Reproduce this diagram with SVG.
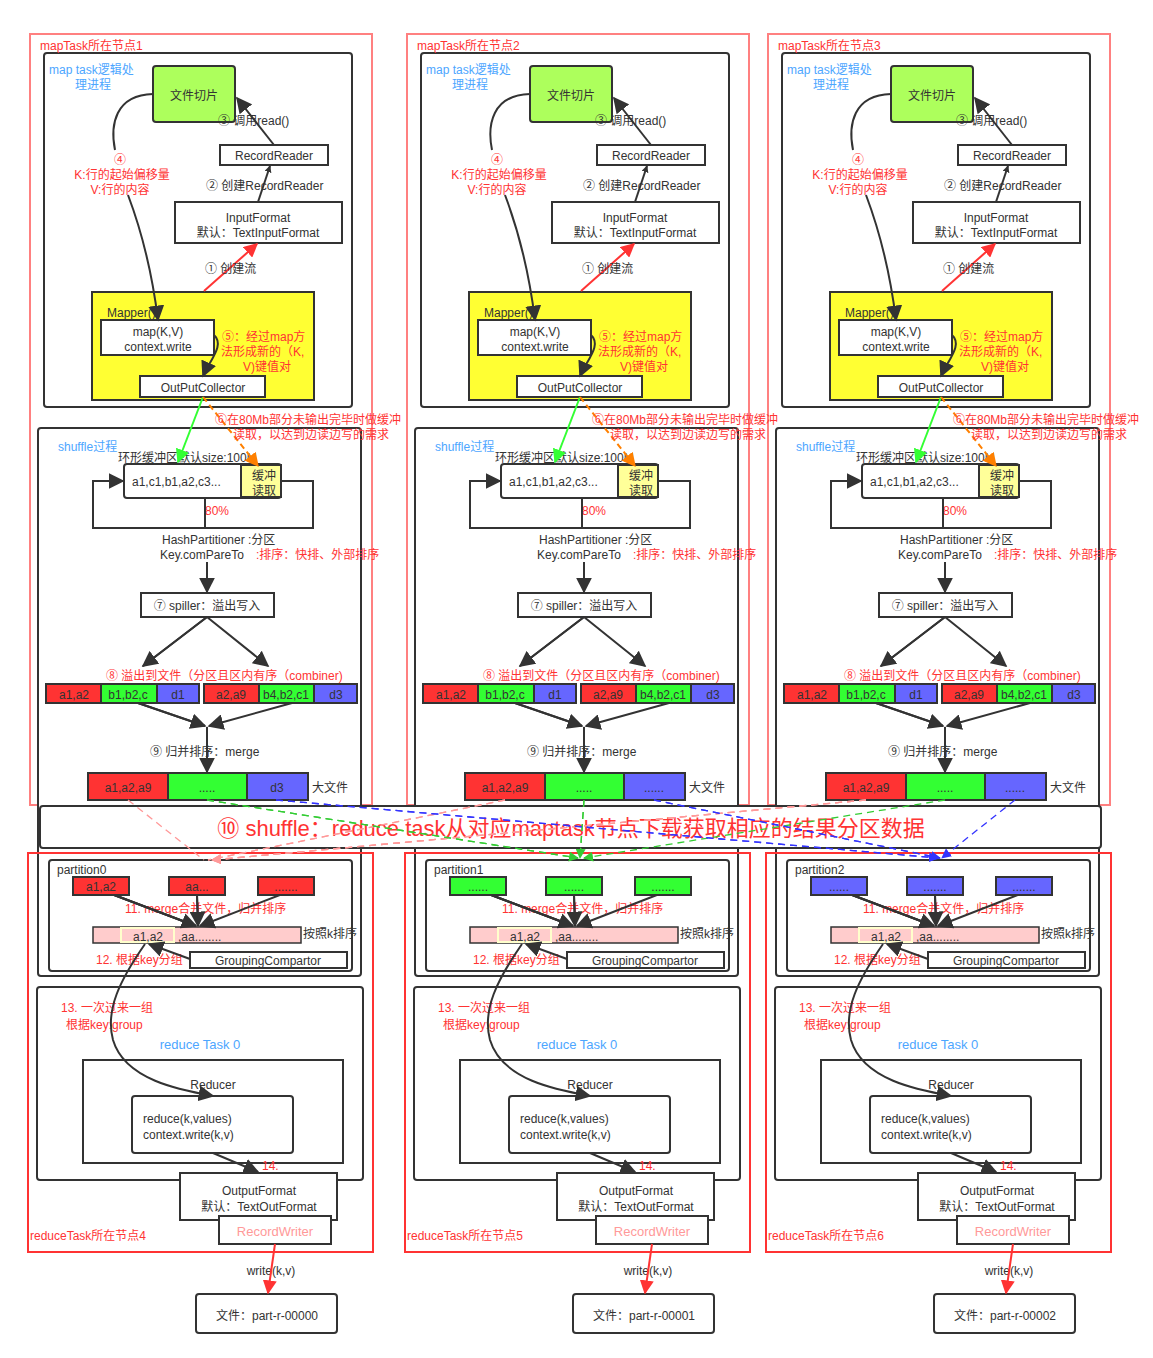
<svg xmlns="http://www.w3.org/2000/svg" xmlns:xlink="http://www.w3.org/1999/xlink" width="1153" height="1358" viewBox="0 0 1153 1358">
<style>
text{font-family:"Liberation Sans","Noto Sans CJK SC",sans-serif;font-size:12px;fill:#333}
.r{fill:#ff3333}.b{fill:#4da6ff}.pk{fill:#ff9999}
.bx{fill:#fff;stroke:#333;stroke-width:2}
.red{fill:none;stroke:#ff3333;stroke-width:2}
.redl{fill:none;stroke:#ff8080;stroke-width:2}
.ln{fill:none;stroke:#333;stroke-width:2}
.m{text-anchor:middle}
.cr{fill:#ff3333;stroke:#333;stroke-width:2}
.cg{fill:#33ff33;stroke:#333;stroke-width:2}
.cb{fill:#6666ff;stroke:#333;stroke-width:2}
</style>
<defs>
<marker id="ak" viewBox="0 0 10 10" refX="9" refY="5" markerWidth="7" markerHeight="7" orient="auto" markerUnits="userSpaceOnUse"><path d="M0,0L10,5L0,10z" fill="#333"/></marker>
<marker id="ar" viewBox="0 0 10 10" refX="9" refY="5" markerWidth="14" markerHeight="14" orient="auto" markerUnits="userSpaceOnUse"><path d="M0,0L10,5L0,10z" fill="#ff3333"/></marker>
<marker id="ag" viewBox="0 0 10 10" refX="9" refY="5" markerWidth="14" markerHeight="14" orient="auto" markerUnits="userSpaceOnUse"><path d="M0,0L10,5L0,10z" fill="#33ff33"/></marker>
<marker id="ao" viewBox="0 0 10 10" refX="9" refY="5" markerWidth="14" markerHeight="14" orient="auto" markerUnits="userSpaceOnUse"><path d="M0,0L10,5L0,10z" fill="#ff8000"/></marker>
<marker id="ap" viewBox="0 0 10 10" refX="9" refY="5" markerWidth="10" markerHeight="10" orient="auto" markerUnits="userSpaceOnUse"><path d="M0,0L10,5L0,10z" fill="#ff9999"/></marker>
<marker id="agr" viewBox="0 0 10 10" refX="9" refY="5" markerWidth="10" markerHeight="10" orient="auto" markerUnits="userSpaceOnUse"><path d="M0,0L10,5L0,10z" fill="#33cc33"/></marker>
<marker id="abl" viewBox="0 0 10 10" refX="9" refY="5" markerWidth="10" markerHeight="10" orient="auto" markerUnits="userSpaceOnUse"><path d="M0,0L10,5L0,10z" fill="#3333ff"/></marker>
<marker id="aK" viewBox="0 0 10 10" refX="9" refY="5" markerWidth="16" markerHeight="16" orient="auto" markerUnits="userSpaceOnUse"><path d="M0,0L10,5L0,10z" fill="#333"/></marker>
</defs>

<g id="col1">
<g id="mapnode"><rect x="30" y="34" width="342" height="771" class="redl"/></g>
<g id="maptask"><rect x="44" y="53" width="308" height="354" rx="3" class="bx"/>
<text x="49" y="74" class="b">map task逻辑处</text><text x="75" y="89" class="b">理进程</text></g>
<g id="split"><rect x="153" y="66" width="82" height="56" rx="3" fill="#adff5c" stroke="#333" stroke-width="2"/><text x="194" y="100" class="m">文件切片</text></g>
<g id="rr"><rect x="220" y="145" width="108" height="20" class="bx"/><text x="274" y="160" class="m">RecordReader</text></g>
<g id="inf"><rect x="175" y="202" width="167" height="41" class="bx"/><text x="258" y="222" class="m">InputFormat</text><text x="258" y="237" class="m">默认：TextInputFormat</text></g>
<g id="mapper"><rect x="92" y="292" width="222" height="108" fill="#ffff33" stroke="#333" stroke-width="2"/><text x="107" y="317">Mapper()</text>
<rect x="101" y="320" width="113" height="35" class="bx"/><text x="158" y="336" class="m">map(K,V)</text><text x="158" y="351" class="m">context.write</text>
<rect x="140" y="376" width="125" height="21" class="bx"/><text x="203" y="392" class="m">OutPutCollector</text>
<text x="222" y="341" class="r">⑤：经过map方</text><text x="221" y="356" class="r">法形成新的（K,</text><text x="243" y="371" class="r">V)键值对</text></g>
<g id="shuffle"><rect x="38" y="428" width="323" height="548" rx="3" class="bx" fill="none"/>
<text x="58" y="451" class="b">shuffle过程</text></g>
<g id="buffer"><rect x="124" y="464" width="157" height="34" rx="3" class="bx"/>
<rect x="241" y="465" width="40" height="32" fill="#ffff99" stroke="#333" stroke-width="2"/>
<text x="132" y="486">a1,c1,b1,a2,c3...</text><text x="264" y="480" class="m">缓冲</text><text x="264" y="495" class="m">读取</text>
<text x="118" y="462">环形缓冲区默认size:100M</text><text x="205" y="515" class="r">80%</text>
<text x="162" y="544">HashPartitioner :分区</text><text x="160" y="559">Key.comPareTo</text><text x="256" y="559" class="r">:排序：快排、外部排序</text></g>
<g id="spiller"><rect x="141" y="593" width="133" height="24" class="bx"/><text x="207" y="610" class="m">⑦ spiller：溢出写入</text></g>
<g id="spill"><text x="106" y="680" class="r">⑧ 溢出到文件（分区且区内有序（combiner)</text>
<rect x="46" y="684" width="55" height="19" class="cr"/><rect x="101" y="684" width="56" height="19" class="cg"/><rect x="157" y="684" width="42" height="19" class="cb"/>
<rect x="204" y="684" width="55" height="19" class="cr"/><rect x="259" y="684" width="55" height="19" class="cg"/><rect x="314" y="684" width="43" height="19" class="cb"/>
<text x="74" y="699" class="m">a1,a2</text><text x="128" y="699" class="m">b1,b2,c</text><text x="178" y="699" class="m">d1</text>
<text x="231" y="699" class="m">a2,a9</text><text x="286" y="699" class="m">b4,b2,c1</text><text x="336" y="699" class="m">d3</text>
<text x="150" y="756">⑨ 归并排序：merge</text></g>
<g id="bigfile"><rect x="88" y="773" width="80" height="27" class="cr"/><rect x="168" y="773" width="79" height="27" class="cg"/><rect x="247" y="773" width="61" height="27" class="cb"/>
<text x="128" y="792" class="m">a1,a2,a9</text><text x="312" y="792">大文件</text></g>
<g id="rednode"><rect x="28" y="853" width="345" height="399" class="red"/></g>
<g id="part"><rect x="49" y="860" width="303" height="111" rx="3" class="bx"/>
<rect x="93" y="927" width="208" height="16" fill="#ffcccc" stroke="#333" stroke-width="1.5"/>
<rect x="121" y="928" width="53" height="14" fill="#ffcccc" stroke="#ffffcc" stroke-width="2"/>
<text x="148" y="941" class="m">a1,a2</text><text x="178" y="941">,aa........</text><text x="303" y="938">按照k排序</text>
<text x="125" y="913" class="r">11. merge合并文件，归并排序</text>
<rect x="190" y="952" width="157" height="16" class="bx"/><text x="268" y="965" class="m">GroupingCompartor</text>
<text x="96" y="964" class="r">12. 根据key分组</text></g>
<g id="rtask"><rect x="37" y="987" width="326" height="193" rx="3" class="bx"/>
<text x="61" y="1012" class="r">13. 一次过来一组</text><text x="66" y="1029" class="r">根据key:group</text>
<text x="200" y="1049" class="m" style="fill:#4da6ff;font-size:13px">reduce Task 0</text>
<rect x="83" y="1060" width="260" height="103" class="bx"/><text x="213" y="1089" class="m">Reducer</text>
<rect x="132" y="1096" width="161" height="57" rx="3" class="bx"/><text x="143" y="1123">reduce(k,values)</text><text x="143" y="1139">context.write(k,v)</text>
<text x="262" y="1170" class="r">14.</text></g>
<g id="outf"><rect x="180" y="1173" width="157" height="47" class="bx"/><text x="259" y="1195" class="m">OutputFormat</text><text x="259" y="1211" class="m">默认：TextOutFormat</text>
<rect x="219" y="1216" width="112" height="28" class="bx"/><text x="275" y="1236" class="m pk" style="font-size:13px">RecordWriter</text>
<text x="271" y="1275" class="m">write(k,v)</text></g>
<g id="file"><rect x="196" y="1294" width="141" height="39" rx="3" class="bx"/></g>
<g id="conn">
<path d="M274,145L237,98" class="ln" marker-end="url(#aK)"/>
<path d="M258,202L270,166" class="ln" marker-end="url(#ak)"/>
<path d="M204,291L257,244" stroke="#ff3333" stroke-width="2" fill="none" marker-end="url(#ar)"/>
<path d="M153,94C115,95 110,125 115,150" class="ln"/>
<path d="M128,195C145,240 153,280 158,320" class="ln" marker-end="url(#aK)"/>
<path d="M214,335C225,345 210,360 203,376" class="ln" marker-end="url(#aK)"/>
<path d="M203,397L178,462" stroke="#33ff33" stroke-width="2" fill="none" marker-end="url(#ag)"/>
<path d="M203,397L258,466" stroke="#ff8000" stroke-width="2" stroke-dasharray="6,4" fill="none" marker-end="url(#ao)"/>
<path d="M205,498V528H93V481H123" class="ln" marker-end="url(#aK)"/>
<path d="M281,481H313V528H205" class="ln"/>
<path d="M207,562V592" class="ln" marker-end="url(#aK)"/>
<path d="M207,617L143,666M207,617L268,666" class="ln" marker-end="url(#aK)"/>
<path d="M207,617L143,666" class="ln" marker-end="url(#aK)"/>
<path d="M138,703L205,726M292,703L209,726" class="ln" marker-end="url(#aK)"/>
<path d="M138,703L205,726" class="ln" marker-end="url(#aK)"/>
<path d="M207,727V772" class="ln" marker-end="url(#aK)"/>
<path d="M101,890L196,926M197,895L198,926M285,893L200,926" class="ln" marker-end="url(#aK)"/>
<path d="M101,890L196,926M197,895L198,926" class="ln" marker-end="url(#aK)"/>
<path d="M101,890L196,926" class="ln" marker-end="url(#aK)"/>
<path d="M190,959L149,944" class="ln" marker-end="url(#aK)"/>
<path d="M145,944C120,980 105,1010 113,1040C125,1080 180,1090 213,1096" class="ln" marker-end="url(#aK)"/>
<path d="M213,1153L258,1172" class="ln" marker-end="url(#aK)"/>
<path d="M275,1244L268,1293" stroke="#ff3333" stroke-width="2" fill="none" marker-end="url(#ar)"/>
</g>
</g>
<use href="#col1" xlink:href="#col1" x="377"/>
<use href="#col1" xlink:href="#col1" x="738"/>

<g id="labels">
<text x="40" y="50" class="r">mapTask所在节点1</text><text x="417" y="50" class="r">mapTask所在节点2</text><text x="778" y="50" class="r">mapTask所在节点3</text>
<text x="120" y="164" class="r m">④</text><text x="122" y="179" class="r m">K:行的起始偏移量</text><text x="120" y="194" class="r m">V:行的内容</text>
<text x="497" y="164" class="r m">④</text><text x="499" y="179" class="r m">K:行的起始偏移量</text><text x="497" y="194" class="r m">V:行的内容</text>
<text x="858" y="164" class="r m">④</text><text x="860" y="179" class="r m">K:行的起始偏移量</text><text x="858" y="194" class="r m">V:行的内容</text>
<text x="218" y="125">③ 调用read()</text><text x="595" y="125">③ 调用read()</text><text x="956" y="125">③ 调用read()</text>
<text x="206" y="190">② 创建RecordReader</text><text x="583" y="190">② 创建RecordReader</text><text x="944" y="190">② 创建RecordReader</text>
<text x="205" y="273">① 创建流</text><text x="582" y="273">① 创建流</text><text x="943" y="273">① 创建流</text>
<text x="215" y="424" class="r">⑥在80Mb部分未输出完毕时做缓冲</text><text x="233" y="439" class="r">读取，以达到边读边写的需求</text>
<text x="592" y="424" class="r">⑥在80Mb部分未输出完毕时做缓冲</text><text x="610" y="439" class="r">读取，以达到边读边写的需求</text>
<text x="953" y="424" class="r">⑥在80Mb部分未输出完毕时做缓冲</text><text x="971" y="439" class="r">读取，以达到边读边写的需求</text>
<text x="207" y="792" class="m">.....</text><text x="277" y="792" class="m">d3</text>
<text x="584" y="792" class="m">.....</text><text x="654" y="792" class="m">......</text>
<text x="945" y="792" class="m">.....</text><text x="1015" y="792" class="m">......</text>
<text x="30" y="1240" class="r">reduceTask所在节点4</text><text x="407" y="1240" class="r">reduceTask所在节点5</text><text x="768" y="1240" class="r">reduceTask所在节点6</text>
<text x="267" y="1320" class="m">文件：part-r-00000</text><text x="644" y="1320" class="m">文件：part-r-00001</text><text x="1005" y="1320" class="m">文件：part-r-00002</text>
</g>
<g id="partitions">
<text x="57" y="874">partition0</text><text x="434" y="874">partition1</text><text x="795" y="874">partition2</text>
<rect x="73" y="877" width="56" height="18" class="cr"/><rect x="169" y="877" width="56" height="18" class="cr"/><rect x="258" y="877" width="56" height="18" class="cr"/>
<text x="101" y="891" class="m">a1,a2</text><text x="197" y="891" class="m">aa...</text><text x="286" y="891" class="m">.......</text>
<rect x="450" y="877" width="56" height="18" class="cg"/><rect x="546" y="877" width="56" height="18" class="cg"/><rect x="635" y="877" width="56" height="18" class="cg"/>
<text x="478" y="891" class="m">......</text><text x="574" y="891" class="m">......</text><text x="663" y="891" class="m">.......</text>
<rect x="811" y="877" width="56" height="18" class="cb"/><rect x="907" y="877" width="56" height="18" class="cb"/><rect x="996" y="877" width="56" height="18" class="cb"/>
<text x="839" y="891" class="m">......</text><text x="935" y="891" class="m">.......</text><text x="1024" y="891" class="m">.......</text>
</g>
<g id="banner"><rect x="40" y="806" width="1061" height="42" rx="3" fill="#fff" stroke="#333" stroke-width="2"/>
<text x="571" y="836" class="m r" style="font-size:22px">⑩ shuffle：reduce task从对应maptask节点下载获取相应的结果分区数据</text></g>
<g id="dashes" fill="none" stroke-width="1.3" stroke-dasharray="7,5">
<path d="M128,800L204,860M505,800L208,860M866,800L212,860" stroke="#ff9999" marker-end="url(#ap)"/>
<path d="M505,800L208,860M866,800L212,860" stroke="#ff9999" marker-end="url(#ap)"/>
<path d="M866,800L212,860" stroke="#ff9999" marker-end="url(#ap)"/>
<path d="M207,800L578,858M584,800L580,858M945,800L584,858" stroke="#33cc33" marker-end="url(#agr)"/>
<path d="M207,800L578,858" stroke="#33cc33" marker-end="url(#agr)"/>
<path d="M584,800L580,858" stroke="#33cc33" marker-end="url(#agr)"/>
<path d="M276,800L938,858M654,800L940,858M1015,800L942,858" stroke="#3333ff" marker-end="url(#abl)"/>
<path d="M276,800L938,858" stroke="#3333ff" marker-end="url(#abl)"/>
<path d="M654,800L940,858" stroke="#3333ff" marker-end="url(#abl)"/>
</g>
</svg>
